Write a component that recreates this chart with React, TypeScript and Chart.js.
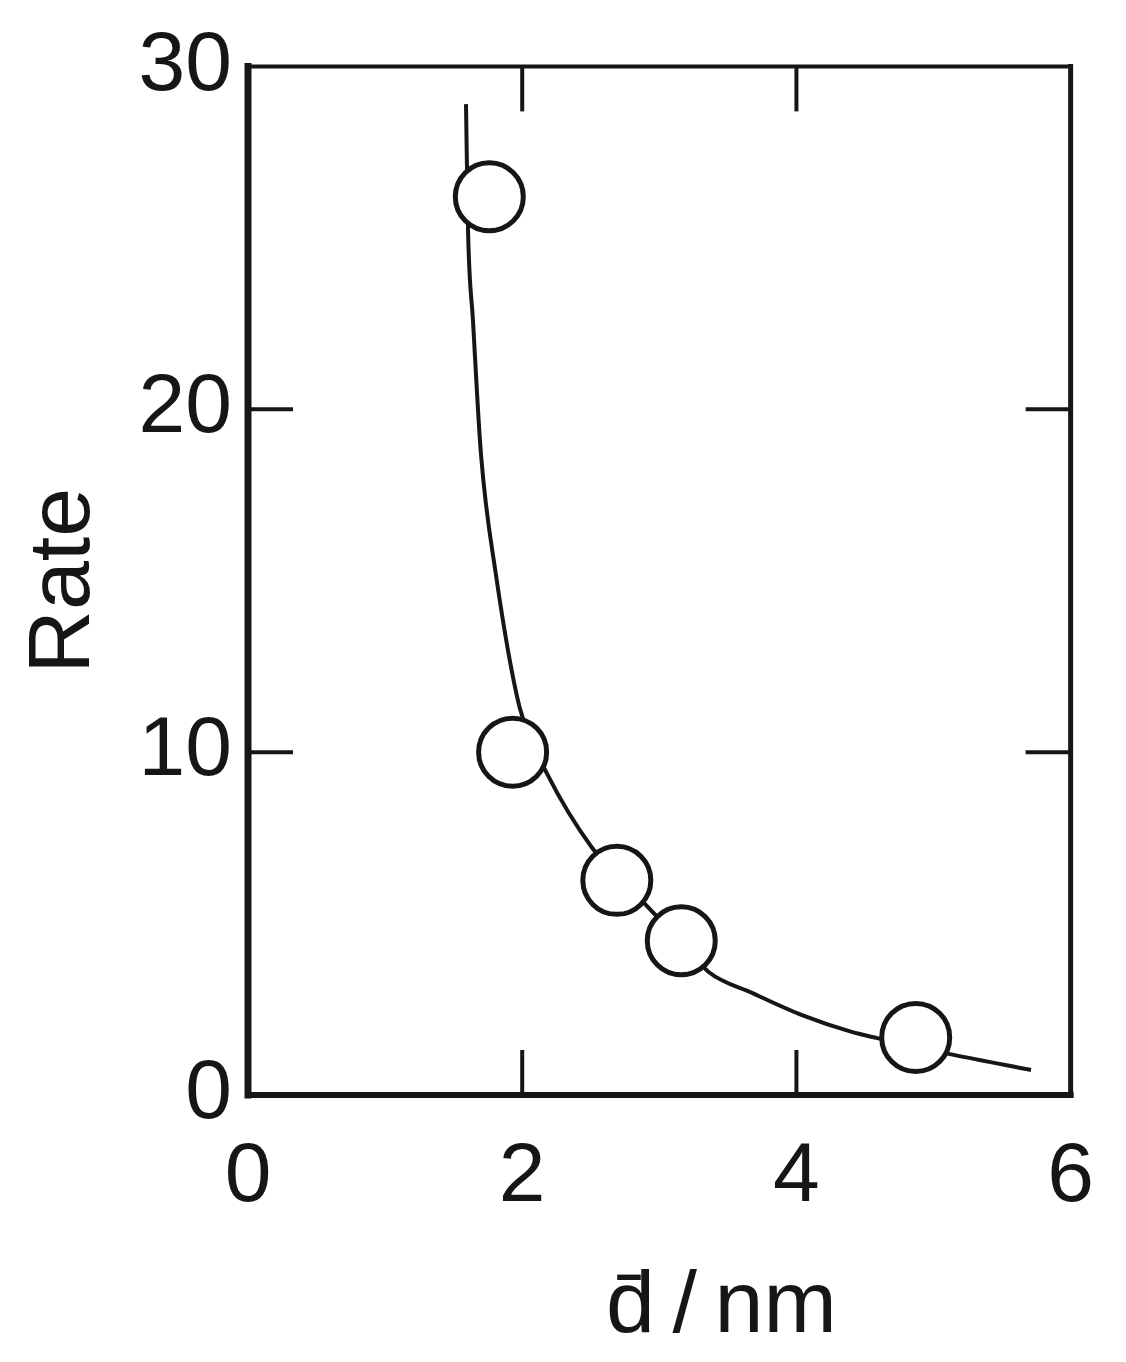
import React, { useEffect, useRef } from "react";
import { Chart, registerables } from "chart.js";

Chart.register(...registerables);

// Measured data points (open circles)
const pointX = [1.76, 1.93, 2.69, 3.16, 4.87];
const pointY = [26.2, 10.0, 6.26, 4.5, 1.68];

// Hand-drawn guide curve
const curveX = [1.59, 1.605, 1.641, 1.699, 1.807, 1.981, 2.075, 2.176, 2.508, 2.834, 3.195, 3.362, 3.68, 4.041, 4.403, 4.59, 5.147, 5.711];
const curveY = [28.9, 25.2, 22.58, 18.7, 15.21, 11.3, 10.34, 9.41, 7.22, 5.83, 4.31, 3.58, 2.97, 2.33, 1.84, 1.66, 1.17, 0.73];

const xTicks = [0, 2, 4, 6];
const yTicks = [0, 10, 20, 30];

const xTitle = "d\u0304\u2009/\u2009nm";
const yTitle = "Rate";

const INK = "#161616";
const FONT = "'Liberation Sans', Arial, sans-serif";

const framePlugin = {
  id: "frameTicks",
  afterDraw(chart: any) {
    const { ctx, chartArea } = chart;
    const { left, right, top, bottom } = chartArea;
    const xs = chart.scales.x;
    const ys = chart.scales.y;
    const line = (x1: number, y1: number, x2: number, y2: number, w: number) => {
      ctx.lineWidth = w;
      ctx.beginPath();
      ctx.moveTo(x1, y1);
      ctx.lineTo(x2, y2);
      ctx.stroke();
    };
    ctx.save();
    ctx.strokeStyle = INK;
    ctx.lineCap = "butt";
    const TL = 45;
    xs.ticks.forEach((t: any) => {
      if (t.value <= xs.min || t.value >= xs.max) return;
      const px = xs.getPixelForValue(t.value);
      line(px, bottom, px, bottom - TL, 4);
      line(px, top, px, top + TL, 4);
    });
    ys.ticks.forEach((t: any) => {
      if (t.value <= ys.min || t.value >= ys.max) return;
      const py = ys.getPixelForValue(t.value);
      line(left, py, left + TL, py, 4);
      line(right, py, right - TL, py, 4);
    });
    // frame
    ctx.lineCap = "square";
    line(left, top, right, top, 4);
    line(right, top, right, bottom, 5);
    line(left, bottom, right, bottom, 6);
    line(left, top, left, bottom, 7);
    // x-axis title
    ctx.fillStyle = INK;
    ctx.font = `88px ${FONT}`;
    ctx.textAlign = "center";
    ctx.textBaseline = "alphabetic";
    ctx.fillText(xTitle, (left + right) / 2 + 62, bottom + 237);
    ctx.restore();
  },
};

export default function App() {
  const ref = useRef<HTMLCanvasElement | null>(null);

  useEffect(() => {
    if (!ref.current) return;
    const chart = new Chart(ref.current, {
      type: "scatter",
      data: {
        datasets: [
          {
            label: "data",
            data: pointX.map((x, i) => ({ x, y: pointY[i] })),
            pointRadius: 34,
            pointHoverRadius: 34,
            pointBorderWidth: 5,
            pointBackgroundColor: "#ffffff",
            pointBorderColor: INK,
            showLine: false,
            order: 0,
          },
          {
            label: "curve",
            data: curveX.map((x, i) => ({ x, y: curveY[i] })),
            showLine: true,
            borderColor: INK,
            borderWidth: 4,
            pointRadius: 0,
            cubicInterpolationMode: "monotone",
            order: 1,
          },
        ],
      },
      options: {
        animation: false,
        responsive: false,
        devicePixelRatio: 1,
        layout: { padding: { left: 0, top: 65, right: 48, bottom: 0 } },
        plugins: { legend: { display: false }, tooltip: { enabled: false } },
        scales: {
          x: {
            type: "linear",
            min: xTicks[0],
            max: xTicks[xTicks.length - 1],
            ticks: {
              stepSize: xTicks[1] - xTicks[0],
              color: INK,
              padding: 32,
              font: { family: FONT, size: 84 },
            },
            grid: { display: false, drawTicks: false },
            border: { display: false },
            afterFit: (s: any) => {
              s.height = 267;
            },
          },
          y: {
            type: "linear",
            min: yTicks[0],
            max: yTicks[yTicks.length - 1],
            ticks: {
              stepSize: yTicks[1] - yTicks[0],
              color: INK,
              padding: 16,
              font: { family: FONT, size: 84 },
            },
            grid: { display: false, drawTicks: false },
            border: { display: false },
            title: {
              display: true,
              text: yTitle,
              color: INK,
              font: { family: FONT, size: 88 },
              padding: { top: 12, bottom: 0 },
            },
            afterFit: (s: any) => {
              s.width = 248;
            },
          },
        },
      },
      plugins: [framePlugin],
    });
    return () => chart.destroy();
  }, []);

  return (
    <div style={{ position: "fixed", left: 0, top: 0, width: 1126, height: 1362, background: "#ffffff" }}>
      <canvas ref={ref} width={1126} height={1362} style={{ display: "block" }} />
    </div>
  );
}
